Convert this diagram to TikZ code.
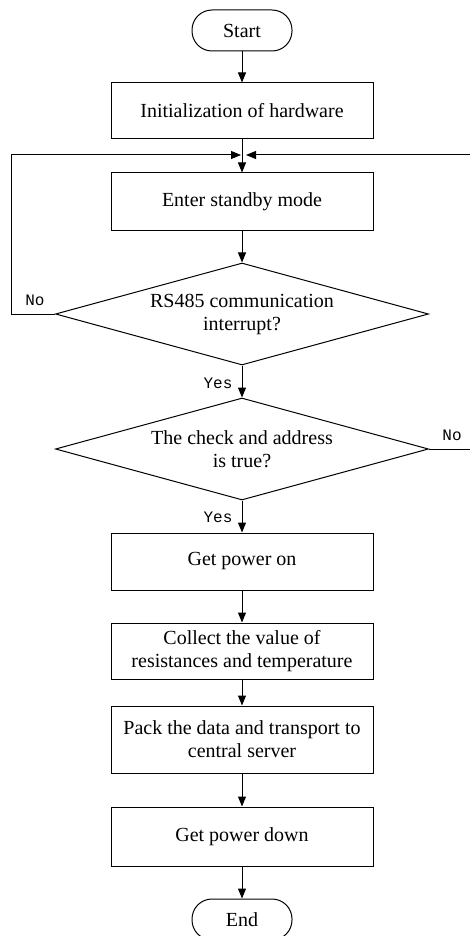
\documentclass[tikz,border=0pt]{standalone}
\usepackage{fontspec}
\setmainfont{Liberation Serif}
\newfontfamily\labelfont{Liberation Mono}
\usetikzlibrary{arrows.meta,shapes.geometric}
\tikzset{
  boxtext/.style={font=\fontsize{20}{23}\selectfont},
  stepbox/.style={draw, rectangle, boxtext, minimum width=262pt, inner sep=2pt, align=center},
  terminal/.style={draw, rectangle, boxtext, rounded corners=20pt, minimum width=100pt, minimum height=41pt},
  decision/.style={draw, diamond, boxtext, aspect=3.6, inner sep=0pt, minimum width=373pt, minimum height=102pt, align=center},
  answer/.style={font=\labelfont\fontsize{16}{16}\selectfont, inner sep=0pt},
  flow/.style={draw, -{Triangle[length=10pt,width=8pt]}}
}
\begin{document}
\begin{tikzpicture}[x=1pt, y=-1pt, line width=1pt]
\clip (0,0) rectangle (470,936);
\node[terminal] (start) at (242,30.5) {Start};
\node[stepbox, minimum height=56pt] (init) at (242,111) {Initialization of hardware};
\coordinate (merge) at (242,155);
\node[stepbox, minimum height=57pt] (standby) at (242,201.5) {Enter standby mode};
\node[decision] (rs485) at (242,314) {RS485 communication\\interrupt?};
\node[decision] (check) at (242,449) {The check and address\\is true?};
\node[stepbox, minimum height=57pt] (poweron) at (242,561.5) {Get power on};
\node[stepbox, minimum height=56pt] (collect) at (242,651) {Collect the value of\\resistances and temperature};
\node[stepbox, minimum height=67pt] (pack) at (242,739.5) {Pack the data and transport to\\central server};
\node[stepbox, minimum height=59pt] (powerdown) at (242,836.5) {Get power down};
\node[terminal] (end) at (242,919.5) {End};
\node[answer] (no1) at (35,300) {No};
\node[answer] (yes1) at (218,383) {Yes};
\node[answer] (no2) at (452,435) {No};
\node[answer] (yes2) at (218,517) {Yes};
\path[flow] (start) -- (init);
\path[draw] (init) -- (merge);
\path[flow] (merge) -- (standby);
\path[flow] (standby) -- (rs485);
\path[flow] (rs485) -- (check);
\path[flow] (check) -- (poweron);
\path[flow] (poweron) -- (collect);
\path[flow] (collect) -- (pack);
\path[flow] (pack) -- (powerdown);
\path[flow] (powerdown) -- (end);
\path[flow] (rs485.west) -- ++(-44,0) |- ([xshift=-1pt]merge);
\path[flow] (check.east) -- ++(47,0) |- ([xshift=4pt]merge);
\end{tikzpicture}
\end{document}
